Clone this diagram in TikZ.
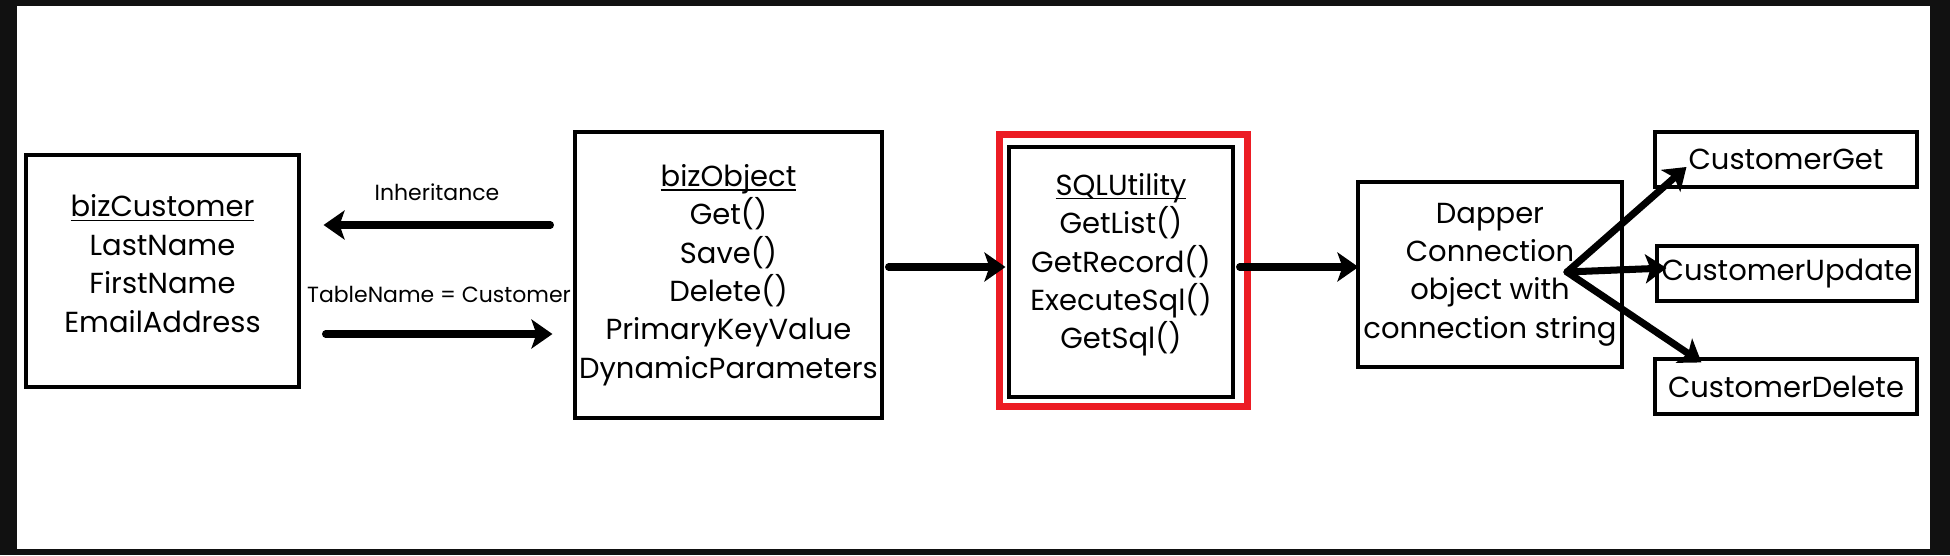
\documentclass[tikz,border=0pt]{standalone}
\usepackage{fontspec}
\setmainfont{Poppins}
\usetikzlibrary{positioning, arrows.meta, calc}
\definecolor{frameBlack}{RGB}{17,17,17}
\definecolor{hiRed}{RGB}{236,28,36}
\newcommand{\classname}[1]{\setbox0\hbox{#1}\rlap{\rule[-2.4pt]{\wd0}{0.9pt}}\box0}

\begin{document}
\begin{tikzpicture}[
        x=0.02cm, y=-0.02cm,
        font=\fontsize{16.5}{21.85}\selectfont,
        box/.style={rectangle, draw, line width=1.8pt, fill=white, align=center, inner sep=2pt},
        arr/.style={-{Stealth[length=0.42cm, width=0.58cm, inset=0.1cm]}, line width=4pt, line cap=round},
        lbl/.style={font=\fontsize{12.5}{15}\selectfont}
    ]
    \fill[frameBlack] (0,0) rectangle (1950,555);
    \fill[white] (17,6) rectangle (1930,549);
    % classes
    \node[box, minimum width=5.46cm, minimum height=4.64cm] (bizCustomer) at (162.5,271) {\classname{bizCustomer}\\LastName\\FirstName\\EmailAddress\rule[-0.3cm]{0pt}{0pt}};
    \node[box, minimum width=6.14cm, minimum height=5.72cm] (bizObject) at (728.5,275) {\classname{bizObject}\\Get()\\Save()\\Delete()\\PrimaryKeyValue\\DynamicParameters};
    \node[box, minimum width=4.48cm, minimum height=5.0cm] (sqlUtil) at (1121,272) {\classname{SQLUtility}\\GetList()\\GetRecord()\\ExecuteSql()\\GetSql()\rule[-0.44cm]{0pt}{0pt}};
    \draw[hiRed, line width=4pt] ($(sqlUtil.north west)+(-7.5,-10.5)$) rectangle ($(sqlUtil.south east)+(13,7.5)$);
    \node[box, minimum width=5.28cm, minimum height=3.7cm] (dapper) at (1490,274.5) {Dapper\\Connection\\object with\\connection string};
    % stored procedures
    \node[box, minimum width=5.24cm, minimum height=1.1cm] (custGet) at (1786,159.5) {CustomerGet};
    \node[box, minimum width=5.2cm, minimum height=1.1cm] (custUpdate) at (1787,273.5) {CustomerUpdate};
    \node[box, minimum width=5.24cm, minimum height=1.1cm] (custDelete) at (1786,386.5) {CustomerDelete};

    \draw[arr] ($(bizObject.west)+(-23,-50)$) -- node[lbl, above=0.3cm] {Inheritance} ($(bizCustomer.east)+(23,-46)$);
    \draw[arr] ($(bizCustomer.east)+(25,63)$) -- node[lbl, above=0.44cm] {TableName = Customer} ($(bizObject.west)+(-21,59)$);
    \draw[arr] ($(bizObject.east)+(5,-8)$) -- ($(sqlUtil.west)+(-2,-5)$);
    \draw[arr] ($(sqlUtil.east)+(5,-5)$) -- ($(dapper.west)+(2,-7.5)$);
    \coordinate (fan) at ($(dapper.center)+(77,-2.5)$);
    \draw[arr] (fan) -- ($(custGet.west)+(33,7.5)$);
    \draw[arr] (fan) -- ($(custUpdate.west)+(11,-5.5)$);
    \draw[arr] (fan) -- ($(custDelete.north west)+(48,5)$);
\end{tikzpicture}
\end{document}
